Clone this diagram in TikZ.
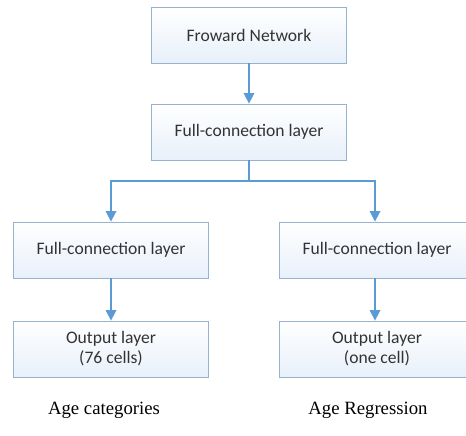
\documentclass[tikz,border=0pt]{standalone}
\usepackage{fontspec}
\setmainfont{Liberation Serif}
\newfontfamily\boxfont{Carlito}
\usetikzlibrary{arrows.meta}
\definecolor{linkblue}{RGB}{91,155,213}
\definecolor{boxline}{RGB}{150,178,205}
\definecolor{boxfill}{RGB}{232,240,250}

\begin{document}
\begin{tikzpicture}[x=0.03cm,y=-0.03cm,
        layer/.style={draw=boxline,line width=0.7pt,top color=white,bottom color=boxfill,
            minimum width=195*0.03cm,minimum height=56*0.03cm,align=center,
            font=\boxfont\fontsize{15}{17}\selectfont,text=black!80},
        link/.style={linkblue,line width=1.4pt,-{Triangle[length=9pt,width=9pt]}},
        caption/.style={font=\fontsize{16}{18}\selectfont}]
        \useasboundingbox (0,0) rectangle (466,435);

        \coordinate (A) at (249,35);
        \coordinate (B) at (249,132);
        \coordinate (C) at (111,250);
        \coordinate (D) at (377,250);
        \coordinate (E) at (111,349);
        \coordinate (F) at (377,349);

        \node[layer] (fwd)   at (A) {Froward Network};
        \node[layer] (fc)    at (B) {Full-connection layer};
        \node[layer] (fcl)   at (C) {Full-connection layer};
        \node[layer] (fcr)   at (D) {Full-connection layer};
        \node[layer] (outl)  at (E) {Output layer\\(76 cells)};
        \node[layer] (outr)  at (F) {Output layer\\(one cell)};

        \node[caption] (catl) at (104,410) {Age categories};
        \node[caption] (catr) at (368,410) {Age Regression};

        \coordinate (split) at (249,181);
        \coordinate (splitr) at (375,181);

        \draw[link] (fwd) -- (fc);
        \draw[linkblue,line width=1.4pt] (fc.south) -- (split);
        \draw[link] (split) -| (fcl.north);
        \draw[link] (split) -- (splitr) -- (splitr |- fcr.north);
        \draw[link] (fcl) -- (outl);
        \draw[link] (splitr |- fcr.south) -- (splitr |- outr.north);
    \end{tikzpicture}
\end{document}
